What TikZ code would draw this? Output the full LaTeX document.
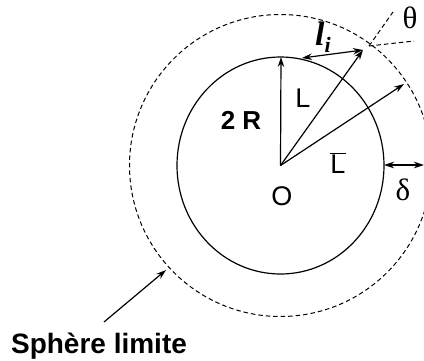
\documentclass[tikz,border=0pt]{standalone}
\usepackage{fontspec}
\setmainfont{Liberation Sans}
\newfontfamily\greekfont{Liberation Serif}
\usetikzlibrary{arrows.meta}
\tikzstyle{arrow} = [line width=1.2pt, -{Stealth[length=10pt, width=6.5pt]}]
\tikzstyle{biarrow} = [line width=1.2pt, {Stealth[length=10pt, width=6.5pt]}-{Stealth[length=10pt, width=6.5pt]}]
\tikzstyle{guide} = [line width=1pt, dash pattern=on 4.5pt off 3pt]
\tikzstyle{txt} = [inner sep=0pt, font=\fontsize{27}{30}\selectfont]
\tikzstyle{greek} = [inner sep=0pt, font=\fontsize{31}{34}\selectfont\greekfont]

\begin{document}
\begin{tikzpicture}[x=1pt, y=-1pt]
  \useasboundingbox (0,0) rectangle (424,360);
  \coordinate (O) at (280.5,165.5);
  \coordinate (top) at (281,57);
  \coordinate (Ltip) at (363,50);
  \coordinate (litail) at (302,58);
  \coordinate (Lbartip) at (404,84);
  \coordinate (cross) at (369,46);
  \coordinate (Lguide) at (393,12);
  \coordinate (liguide) at (414,41);
  \coordinate (rim) at (384,165);
  \coordinate (edge) at (424,165);
  \coordinate (pointer) at (104,322);
  \coordinate (limit) at (166,270);
  % spheres
  \draw[line width=1.2pt] (O) ellipse [x radius=103.5, y radius=108.5];
  \draw[guide] (O) circle [radius=151];
  % labels
  \node[txt, font=\fontsize{28}{30}\selectfont\bfseries] (sphere) at (99,346) {Sphère limite};
  \node[txt, font=\fontsize{26}{28}\selectfont\bfseries] (twoR) at (241,120) {2 R};
  \node[txt] (Lname) at (303,98) {L};
  \node[txt] (Lbar) at (338,163) {$\overline{\mbox{L}}$};
  \node[txt] (Oname) at (282,196) {O};
  \node[greek] (delta) at (403,190) {δ};
  \node[greek] (theta) at (410,18) {θ};
  \node[greek, font=\fontsize{34}{36}\selectfont\greekfont\bfseries\itshape] (li) at (323,37) {l\raisebox{-7pt}{\fontsize{22}{22}\selectfont i}};
  % vectors
  \draw[arrow] (O) -- (top);
  \draw[arrow] (O) -- (Ltip);
  \draw[arrow] (O) -- (Lbartip);
  \draw[biarrow] (litail) -- (Ltip);
  \draw[biarrow] (rim) -- (edge);
  \draw[guide] (cross) -- (Lguide);
  \draw[guide] (cross) -- (liguide);
  \draw[arrow] (pointer) -- (limit);
\end{tikzpicture}
\end{document}
